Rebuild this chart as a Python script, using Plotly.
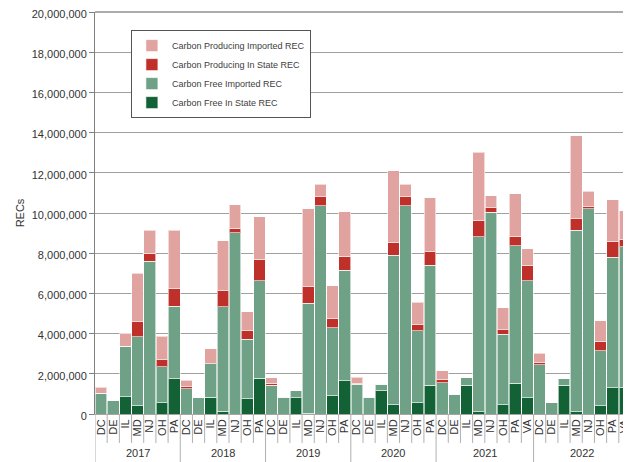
import plotly.graph_objects as go

years = ["2017"]*7 + ["2018"]*7 + ["2019"]*7 + ["2020"]*7 + ["2021"]*8 + ["2022"]*8
states = (["DC", "DE", "IL", "MD", "NJ", "OH", "PA"]*4 +
          ["DC", "DE", "IL", "MD", "NJ", "OH", "PA", "VA"]*2)

# cumulative tops (millions)
top_cf_in = [0, 0, 0.86, 0.40, 0, 0.56, 1.76,
             0, 0, 0.83, 0.13, 0, 0.76, 1.79,
             0, 0, 0.81, 0.05, 0, 0.90, 1.66,
             0, 0, 1.16, 0.45, 0, 0.55, 1.44,
             0, 0, 1.44, 0.10, 0, 0.46, 1.54, 0.80,
             0, 0, 1.43, 0.10, 0, 0.40, 1.31, 1.31]
top_cf_imp = [1.03, 0.66, 3.38, 3.85, 7.61, 2.35, 5.37,
              1.26, 0.80, 2.49, 5.34, 9.02, 3.71, 6.63,
              1.44, 0.83, 1.16, 5.51, 10.36, 4.29, 7.16,
              1.48, 0.83, 1.48, 7.91, 10.36, 4.13, 7.41,
              1.56, 0.98, 1.81, 8.82, 10.05, 3.96, 8.36, 6.63,
              2.44, 0.55, 1.76, 9.15, 10.20, 3.15, 7.81, 8.31]
top_cp_in = [1.03, 0.66, 3.38, 4.59, 7.99, 2.69, 6.22,
             1.36, 0.80, 2.49, 6.13, 9.25, 4.13, 7.71,
             1.53, 0.83, 1.16, 6.33, 10.81, 4.73, 7.86,
             1.53, 0.83, 1.48, 8.52, 10.81, 4.43, 8.07,
             1.73, 0.98, 1.81, 9.62, 10.25, 4.18, 8.84, 7.41,
             2.55, 0.55, 1.76, 9.72, 10.30, 3.62, 8.57, 8.66]
top_cp_imp = [1.33, 0.66, 4.01, 7.00, 9.15, 3.88, 9.15,
              1.69, 0.80, 3.25, 8.62, 10.40, 5.09, 9.82,
              1.81, 0.83, 1.16, 10.20, 11.44, 6.37, 10.06,
              1.83, 0.83, 1.48, 12.10, 11.44, 5.56, 10.76,
              2.15, 0.98, 1.81, 13.03, 10.85, 5.29, 10.95, 8.22,
              3.02, 0.55, 1.76, 13.85, 11.09, 4.63, 10.66, 10.11]

cf_in = [round(a * 1e6) for a in top_cf_in]
cf_imp = [round((b - a) * 1e6) for a, b in zip(top_cf_in, top_cf_imp)]
cp_in = [round((c - b) * 1e6) for b, c in zip(top_cf_imp, top_cp_in)]
cp_imp = [round((d - c) * 1e6) for c, d in zip(top_cp_in, top_cp_imp)]

series = [
    ("Carbon Free In State REC", cf_in, "#136235"),
    ("Carbon Free Imported REC", cf_imp, "#6fa187"),
    ("Carbon Producing In State REC", cp_in, "#c0302a"),
    ("Carbon Producing Imported REC", cp_imp, "#e1a3a0"),
]

xpos = list(range(len(states)))
fig = go.Figure()
for name, vals, col in series:
    fig.add_trace(go.Bar(x=xpos, y=vals, name=name, marker_color=col,
                         marker_line_color="rgba(255,255,255,0.6)", marker_line_width=1))

font = "Liberation Sans, Arial, sans-serif"
# the page body adds an 8px offset, so the figure is 8px smaller on each side
fig.update_layout(
    barmode="stack", bargap=0.04,
    width=623, height=454,
    margin=dict(l=87, r=0, t=4, b=48),
    paper_bgcolor="white", plot_bgcolor="white",
    font=dict(family=font, size=11, color="#333333"),
    showlegend=True,
    legend=dict(traceorder="reversed", x=0.067, y=0.955, xanchor="left", yanchor="top",
                bordercolor="#555555", borderwidth=1, bgcolor="white",
                font=dict(size=9, color="#404040"), itemwidth=30,
                tracegroupgap=0),
)
fig.update_yaxes(range=[0, 20000000], dtick=2000000, tickformat=",",
                 gridcolor="#a0a0a0", gridwidth=1, showline=True, linecolor="#7f7f7f",
                 ticks="outside", ticklen=5, tickcolor="#7f7f7f", automargin=False,
                 ticklabeloverflow="allow", ticklabelshift=2,
                 title=dict(text="RECs", font=dict(size=11), standoff=4), zeroline=False)
fig.update_xaxes(range=[-0.5, len(states) - 0.5], tickmode="array", tickvals=xpos,
                 ticktext=states, tickangle=-90, showline=True, linecolor="#a6a6a6",
                 ticks="", showgrid=False, automargin=False, tickfont=dict(size=11),
                 ticklabeloverflow="allow")

# dividers between categories and between years
for i in range(len(states) + 1):
    is_year_edge = i == 0 or i == len(states) or years[i] != years[i - 1]
    fig.add_shape(type="line", xref="x", yref="paper", x0=i - 0.5, x1=i - 0.5,
                  y0=0, y1=-0.12 if is_year_edge else -0.072,
                  line=dict(color="#b0b0b0", width=1))

# year labels
for yr in sorted(set(years)):
    idx = [i for i, v in enumerate(years) if v == yr]
    fig.add_annotation(x=(idx[0] + idx[-1]) / 2, y=-0.097, xref="x", yref="paper",
                       text=yr, showarrow=False, font=dict(size=11, color="#333333"),
                       yanchor="middle")

fig.add_shape(type="line", xref="paper", yref="paper", x0=0, x1=1, y0=1, y1=1,
              line=dict(color="#595959", width=1))
fig.write_html("out.html")
